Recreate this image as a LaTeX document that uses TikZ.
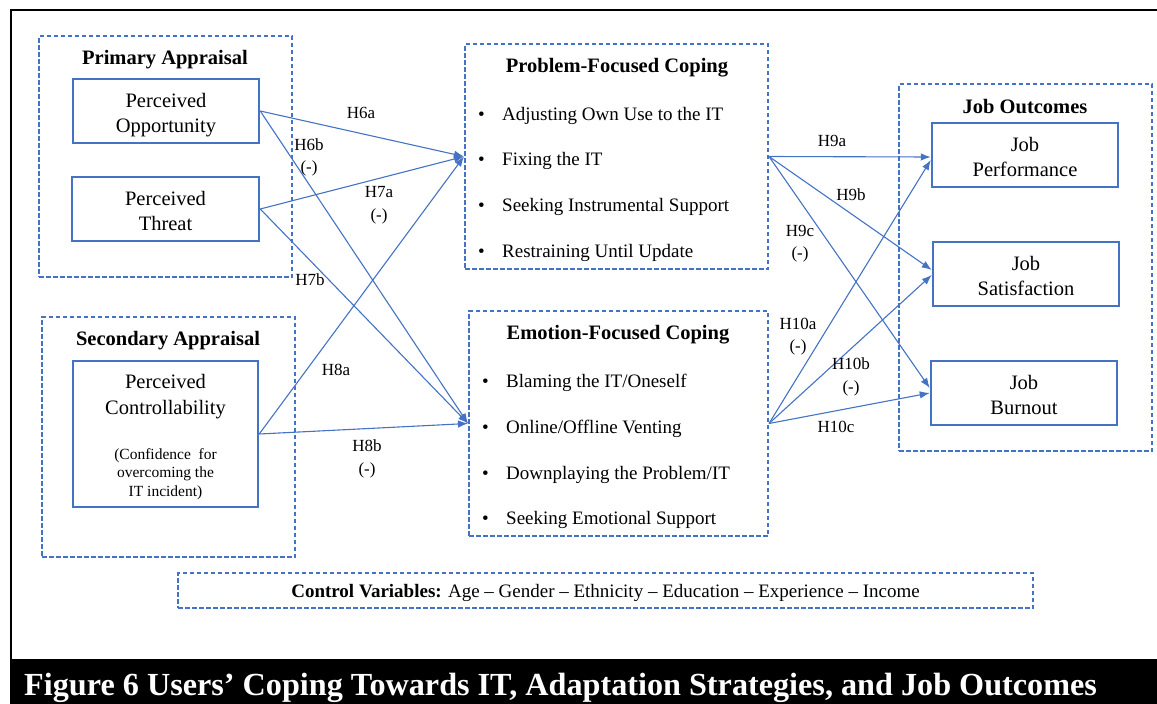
\documentclass[tikz,border=0pt]{standalone}
\usepackage{fontspec}
\setmainfont{Liberation Serif}
\usetikzlibrary{arrows.meta}
\definecolor{myblue}{HTML}{4472C4}
\begin{document}
\begin{tikzpicture}[x=1pt,y=-1pt,
 solidbox/.style={draw=myblue,line width=2.5pt,inner sep=0pt,align=center,font=\fontsize{20.5}{25}\selectfont,text height=42pt,text depth=0pt},
 groupbox/.style={draw=myblue,line width=2pt,dash pattern=on 4.5pt off 2.5pt,inner sep=0pt},
 grouptitle/.style={font=\fontsize{20.5}{25}\selectfont\bfseries,inner sep=0pt},
 item/.style={anchor=west,inner sep=0pt,font=\fontsize{19}{23}\selectfont},
 hyp/.style={font=\fontsize{17}{22.5}\selectfont,align=center,inner sep=0pt},
 arr/.style={draw=myblue,line width=1.1pt,-{Latex[length=10pt,width=7.5pt]}}]
\useasboundingbox (0,0) rectangle (1157,704);
% frame and caption bar
\draw[line width=2.5pt] (11,659) -- (11,10) -- (1157,10);
\fill[black] (10,659) rectangle (1157,704);
\node[anchor=west,inner sep=0pt,text=white,font=\fontsize{32.2}{36}\selectfont\bfseries] (caption) at (24,688) {Figure 6 Users’ Coping Towards IT, Adaptation Strategies, and Job Outcomes};

% group boxes
\node[groupbox,minimum width=253pt,minimum height=241pt] (primary) at (165.5,156.5) {};
\node[grouptitle] (primarytitle) at (165,60) {Primary Appraisal};
\node[groupbox,minimum width=253pt,minimum height=240pt] (secondary) at (168.5,437) {};
\node[grouptitle] (secondarytitle) at (168,341) {Secondary Appraisal};
\node[groupbox,minimum width=303pt,minimum height=225pt] (pfc) at (616.5,156.5) {};
\node[grouptitle] (pfctitle) at (617,68) {Problem-Focused Coping};
\node[groupbox,minimum width=299pt,minimum height=225pt] (efc) at (618.5,423.5) {};
\node[grouptitle] (efctitle) at (618,335) {Emotion-Focused Coping};
\node[groupbox,minimum width=253pt,minimum height=367pt] (jo) at (1025.5,267.5) {};
\node[grouptitle] (jotitle) at (1025,107) {Job Outcomes};
\node[groupbox,minimum width=855pt,minimum height=35pt] (control) at (605.5,590.5) {};
\node[inner sep=0pt,font=\fontsize{19}{22}\selectfont] (controltext) at (605.5,592.5) {\textbf{Control Variables:} Age – Gender – Ethnicity – Education – Experience – Income};

% solid boxes
\node[solidbox,minimum width=186pt,minimum height=64pt] (po) at (166,111) {Perceived\\Opportunity};
\node[solidbox,minimum width=187pt,minimum height=64pt] (pt) at (165.5,209) {Perceived\\Threat};
\node[solidbox,minimum width=185pt,minimum height=146pt,text height=0pt] (pc) at (165.5,434) {};
\node[inner sep=0pt,align=center,font=\fontsize{20.5}{26}\selectfont] (pctext) at (165.5,397) {Perceived\\Controllability};
\node[inner sep=0pt,align=center,font=\fontsize{15.5}{18.5}\selectfont] (pcnote) at (165.5,474) {(Confidence\ \ for\\overcoming the\\IT incident)};
\node[solidbox,minimum width=186pt,minimum height=64pt] (jp) at (1025,155) {Job\\Performance};
\node[solidbox,minimum width=186pt,minimum height=64pt] (js) at (1026,274) {Job\\Satisfaction};
\node[solidbox,minimum width=186pt,minimum height=64pt] (jb) at (1024,393) {Job\\Burnout};

% items
\node[item] (p1) at (478,115.5) {\makebox[24pt][l]{•}Adjusting Own Use to the IT};
\node[item] (p2) at (478,160.5) {\makebox[24pt][l]{•}Fixing the IT};
\node[item] (p3) at (478,206.5) {\makebox[24pt][l]{•}Seeking Instrumental Support};
\node[item] (p4) at (478,252.5) {\makebox[24pt][l]{•}Restraining Until Update};
\node[item] (e1) at (482,382.5) {\makebox[24pt][l]{•}Blaming the IT/Oneself};
\node[item] (e2) at (482,428.5) {\makebox[24pt][l]{•}Online/Offline Venting};
\node[item] (e3) at (482,474.5) {\makebox[24pt][l]{•}Downplaying the Problem/IT};
\node[item] (e4) at (482,519.5) {\makebox[24pt][l]{•}Seeking Emotional Support};

% arrows
\draw[arr] (po.east) -- (pfc.west);
\draw[arr] (po.east) -- (efc.west);
\draw[arr] (pt.east) -- (pfc.west);
\draw[arr] (pt.east) -- (efc.west);
\draw[arr] (pc.east) -- (pfc.west);
\draw[arr] (pc.east) -- (efc.west);
\draw[arr] (pfc.east) -- ([yshift=-2pt]jp.west);
\draw[arr] (pfc.east) -- ([yshift=4pt]js.west);
\draw[arr] (pfc.east) -- ([yshift=5pt]jb.west);
\draw[arr] (efc.east) -- ([yshift=-5pt]jp.west);
\draw[arr] (efc.east) -- ([yshift=-1pt]js.west);
\draw[arr] (efc.east) -- (jb.west);

% hypothesis labels
\node[hyp] (h6a) at (361,113) {H6a};
\node[hyp] (h6b) at (309,157.5) {H6b\\(-)};
\node[hyp] (h7a) at (379,205) {H7a\\(-)};
\node[hyp] (h7b) at (310,280) {H7b};
\node[hyp] (h8a) at (336,370) {H8a};
\node[hyp] (h8b) at (367,459) {H8b\\(-)};
\node[hyp] (h9a) at (832,141) {H9a};
\node[hyp] (h9b) at (851,195) {H9b};
\node[hyp] (h9c) at (800,243.5) {H9c\\(-)};
\node[hyp] (h10a) at (798,336.5) {H10a\\(-)};
\node[hyp] (h10b) at (851,377) {H10b\\(-)};
\node[hyp] (h10c) at (836,427) {H10c};
\end{tikzpicture}
\end{document}
